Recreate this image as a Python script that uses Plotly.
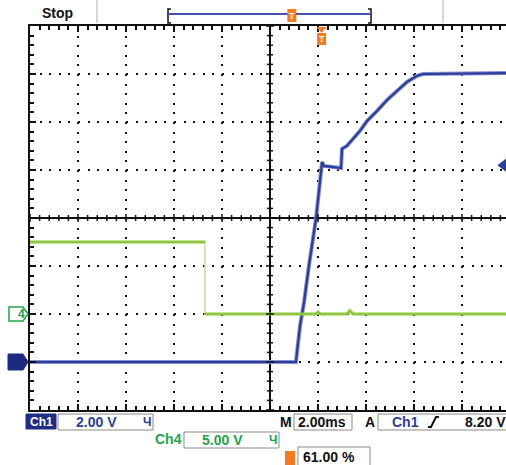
import plotly.graph_objects as go

# ---------------- data ----------------
# Ch1 (blue, 2 V/div) : time in ms, voltage in V
ch1_t = [-10.0, 1.08, 1.25, 1.42, 1.62, 1.92, 2.08, 2.17, 2.25, 2.96, 3.0, 3.2,
         3.75, 4.04, 4.46, 4.88, 5.29, 5.71, 6.12, 6.38, 9.83]
ch1_v = [0.0, 0.0, 1.5, 2.5, 4.0, 6.0, 7.5, 8.33, 8.17, 8.08, 8.88, 9.0,
         9.63, 10.04, 10.46, 10.92, 11.29, 11.67, 11.92, 12.0, 12.04]
# Ch4 (green, 5 V/div)
ch4_t = [-10.0, -2.71, -2.71, 1.9, 2.0, 2.1, 3.2, 3.33, 3.46, 9.83]
ch4_v = [7.5, 7.5, 0.0, 0.0, 0.2, 0.0, 0.0, 0.35, 0.0, 0.0]

ch1_label = "2.00 V"
ch4_label = "5.00 V"
timebase_label = "2.00ms"
trig_label = "8.20 V"
trig_level = 8.2          # V on Ch1
trig_t = 2.15             # ms
pos_pct = 61.0            # horizontal position %
pos_label = "61.00 %"
state_label = "Stop"

# ---------------- geometry helpers ----------------
W, H = 506, 465
L, T, B = 30, 26, 55
PW, PH = W - L, H - T - B      # 476 x 384


def px(x):
    return (x - L) / PW


def py(y):
    return (T + PH - y) / PH


BLUE = "#2c3d9a"
BLUE_LIGHT = "#8590d2"
GREEN = "#8cc63f"
GREEN_LIGHT = "#c3e29a"
GREEN_TXT = "#1fa54a"
ORANGE = "#f47c20"
BLACK = "#111111"

fig = go.Figure()

# Ch1 trace (halo + core)
fig.add_trace(go.Scatter(x=ch1_t, y=ch1_v, mode="lines",
                         line=dict(color=BLUE_LIGHT, width=4), hoverinfo="skip",
                         showlegend=False))
fig.add_trace(go.Scatter(x=ch1_t, y=ch1_v, mode="lines",
                         line=dict(color=BLUE, width=2.2), showlegend=False))
# Ch4 trace: thin full line, thick flat segments
fig.add_trace(go.Scatter(x=ch4_t, y=ch4_v, mode="lines", yaxis="y2",
                         line=dict(color=GREEN_LIGHT, width=1.5), showlegend=False))
fig.add_trace(go.Scatter(x=ch4_t[:2], y=ch4_v[:2], mode="lines", yaxis="y2",
                         line=dict(color=GREEN, width=3), showlegend=False))
fig.add_trace(go.Scatter(x=ch4_t[2:], y=ch4_v[2:], mode="lines", yaxis="y2",
                         line=dict(color=GREEN, width=3), showlegend=False))

shapes = []
ann = []

# center cross (horizontal center line at Ch1 6 V = middle of graticule)
shapes.append(dict(type="line", xref="paper", yref="y domain", x0=0, x1=1, y0=0.5, y1=0.5,
                   line=dict(color=BLACK, width=2), layer="below"))
# tick marks on the center cross
k = 0
t = -10.0
while t < 9.84:
    big = (k % 5 == 0)
    h = 4 if big else 3
    shapes.append(dict(type="line", xref="x", yref="y domain", x0=t, x1=t,
                       ysizemode="pixel", yanchor=0.5, y0=-h, y1=h,
                       line=dict(color=BLACK, width=1.5)))
    k += 1
    t = -10.0 + k * 0.4
k = 0
v = -2.0
while v <= 14.01:
    big = (k % 5 == 0)
    h = 4 if big else 3
    shapes.append(dict(type="line", xref="x", yref="y", y0=v, y1=v,
                       xsizemode="pixel", xanchor=0, x0=-h, x1=h,
                       line=dict(color=BLACK, width=1.5)))
    k += 1
    v = -2.0 + k * 0.4

# Ch1 ground marker
shapes.append(dict(type="path", xref="paper", yref="y", xsizemode="pixel", ysizemode="pixel",
                   xanchor=0, yanchor=0,
                   path="M -22,-8 L -7,-8 L -2,0 L -7,8 L -22,8 Z",
                   fillcolor="#1d2a82", line=dict(color="#1d2a82", width=1)))
# Ch4 ground marker
shapes.append(dict(type="path", xref="paper", yref="y2", xsizemode="pixel", ysizemode="pixel",
                   xanchor=0, yanchor=0,
                   path="M -21,-7 L -7,-7 L -2,0 L -7,7 L -21,7 Z",
                   fillcolor="white", line=dict(color=GREEN_TXT, width=1.5)))
ann.append(dict(x=px(16), y=0, xref="paper", yref="y2", text="<b>4</b>", showarrow=False,
                yanchor="middle",
                font=dict(family="Liberation Sans", size=12, color=GREEN_TXT)))
# trigger level marker on right edge
shapes.append(dict(type="path", xref="paper", yref="y", xsizemode="pixel", ysizemode="pixel",
                   xanchor=1, yanchor=trig_level,
                   path="M -8,0 L 0,-6 L 0,6 Z", fillcolor=BLUE, line=dict(color=BLUE, width=1)))

# trigger position marker under top ruler
tpx = L + (trig_t + 10) / 2 * 48
shapes.append(dict(type="path", xref="paper", yref="paper",
                   path=f"M {px(tpx-5)},{py(27)} L {px(tpx+5)},{py(27)} L {px(tpx)},{py(33)} Z",
                   fillcolor=ORANGE, line=dict(color=ORANGE, width=0)))
shapes.append(dict(type="rect", xref="paper", yref="paper",
                   x0=px(tpx - 4.5), x1=px(tpx + 4.5), y0=py(45), y1=py(33),
                   fillcolor=ORANGE, line=dict(width=0)))
ann.append(dict(x=px(tpx), y=py(39), xref="paper", yref="paper", text="<b>T</b>",
                yanchor="middle",
                showarrow=False, font=dict(family="Liberation Sans", size=9, color="white")))

# ---------------- top status bar ----------------
ann.append(dict(x=px(40), y=py(13), xref="paper", yref="paper", text=f"<b>{state_label}</b>",
                xanchor="left", yanchor="middle", showarrow=False,
                font=dict(family="Liberation Sans", size=14, color=BLACK)))
for gx in (97, 443):
    shapes.append(dict(type="line", xref="paper", yref="paper", x0=px(gx), x1=px(gx),
                       y0=py(0), y1=py(23), line=dict(color="#b0b0b0", width=1)))
bx0, bx1 = 168, 371
shapes.append(dict(type="path", xref="paper", yref="paper",
                   path=f"M {px(bx0+3)},{py(9)} L {px(bx0)},{py(9)} L {px(bx0)},{py(23)} L {px(bx0+3)},{py(23)}",
                   line=dict(color=BLACK, width=1.5)))
shapes.append(dict(type="path", xref="paper", yref="paper",
                   path=f"M {px(bx1-3)},{py(9)} L {px(bx1)},{py(9)} L {px(bx1)},{py(23)} L {px(bx1-3)},{py(23)}",
                   line=dict(color=BLACK, width=1.5)))
shapes.append(dict(type="line", xref="paper", yref="paper", x0=px(bx0), x1=px(bx1),
                   y0=py(14), y1=py(14), line=dict(color="#4052b5", width=2)))
opx = bx0 + (bx1 - bx0) * pos_pct / 100
shapes.append(dict(type="rect", xref="paper", yref="paper", x0=px(opx - 4.5), x1=px(opx + 4.5),
                   y0=py(22), y1=py(9), fillcolor=ORANGE, line=dict(width=0)))
ann.append(dict(x=px(opx), y=py(15.5), xref="paper", yref="paper", text="<b>T</b>",
                yanchor="middle",
                showarrow=False, font=dict(family="Liberation Sans", size=9, color="white")))

# ---------------- bottom readouts ----------------
FONT = "Liberation Sans"


def box(x0, x1, y0, y1, fill="white", line="#8a8a8a"):
    shapes.append(dict(type="rect", xref="paper", yref="paper", x0=px(x0), x1=px(x1),
                       y0=py(y1), y1=py(y0), fillcolor=fill, line=dict(color=line, width=1)))


def text(x, y, s, color, size=14, anchor="left"):
    ann.append(dict(x=px(x), y=py(y), xref="paper", yref="paper", text=f"<b>{s}</b>",
                    xanchor=anchor, yanchor="middle", showarrow=False,
                    font=dict(family=FONT, size=size, color=color)))


# row 1
box(26, 56, 414, 429, fill="#1f2d84", line="#1f2d84")
text(41, 422, "Ch1", "white", 12, "center")
box(58, 153, 414, 430)
text(74, 422, ch1_label, BLUE)
text(147, 422, "Ч", BLUE, 12, "center")
text(286, 422, "M", BLACK, 14, "center")
box(294, 352, 414, 430)
text(296, 422, timebase_label, BLACK)
text(370, 422, "A", BLACK, 14, "center")
box(378, 512, 414, 430)
text(390, 422, "Ch1", BLUE)
shapes.append(dict(type="path", xref="paper", yref="paper",
                   path=f"M {px(428)},{py(427)} L {px(431)},{py(427)} L {px(436)},{py(417)} L {px(439)},{py(417)}",
                   line=dict(color=BLACK, width=2)))
text(463, 422, trig_label, BLACK)
# row 2
text(153, 439, "Ch4", GREEN_TXT)
box(184, 279, 432, 448)
text(200, 440, ch4_label, GREEN_TXT)
text(273, 440, "Ч", GREEN_TXT, 12, "center")
# row 3
shapes.append(dict(type="rect", xref="paper", yref="paper", x0=px(285), x1=px(295),
                   y0=py(466), y1=py(451), fillcolor=ORANGE, line=dict(color=ORANGE, width=0)))
box(298, 370, 447, 467)
text(301, 457, pos_label, BLACK)

# ---------------- axes / layout ----------------
grid_dash = "2px,7.6px"
fig.update_layout(
    width=W, height=H,
    margin=dict(l=L, r=0, t=T, b=B, pad=0),
    paper_bgcolor="white", plot_bgcolor="white",
    showlegend=False,
    shapes=shapes, annotations=ann,
    xaxis=dict(range=[-10, -10 + PW / 24], dtick=2, tick0=0,
               showgrid=True, gridcolor=BLACK, gridwidth=2, griddash=grid_dash,
               zeroline=True, zerolinecolor=BLACK, zerolinewidth=2,
               showline=True, linecolor=BLACK, linewidth=2, mirror="ticks",
               ticks="inside", ticklen=6, tickwidth=1.5, tickcolor=BLACK,
               minor=dict(dtick=0.4, tick0=0, ticks="inside", ticklen=4, tickwidth=1.5,
                          tickcolor=BLACK, showgrid=False),
               showticklabels=False, fixedrange=True),
    yaxis=dict(range=[-2, 14], dtick=2, tick0=0,
               showgrid=True, gridcolor=BLACK, gridwidth=2, griddash=grid_dash,
               zeroline=False, showline=True, linecolor=BLACK, linewidth=2, mirror=False,
               ticks="inside", ticklen=6, tickwidth=1.5, tickcolor=BLACK,
               minor=dict(dtick=0.4, tick0=0, ticks="inside", ticklen=4, tickwidth=1.5,
                          tickcolor=BLACK, showgrid=False),
               showticklabels=False, fixedrange=True),
    yaxis2=dict(range=[-10, 30], overlaying="y", showgrid=False, zeroline=False,
                showline=False, ticks="", showticklabels=False, fixedrange=True),
)

fig.write_html("out.html", config={"displayModeBar": False},
               post_script="document.body.style.margin='0px';document.body.style.overflow='hidden';")
